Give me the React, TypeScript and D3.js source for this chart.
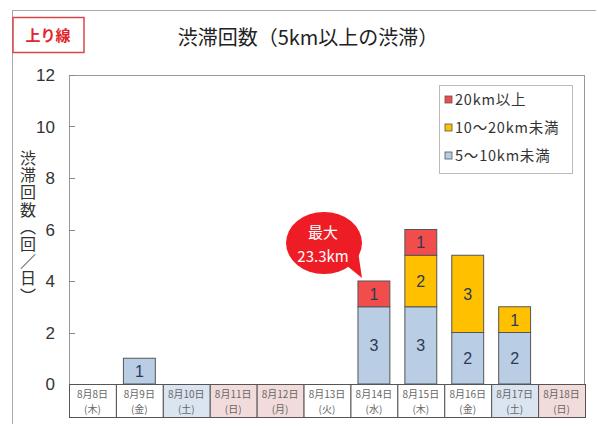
import React from "react";
import * as d3 from "d3";

const dates = ["8月8日", "8月9日", "8月10日", "8月11日", "8月12日", "8月13日", "8月14日", "8月15日", "8月16日", "8月17日", "8月18日"];
const weekdays = ["(木)", "(金)", "(土)", "(日)", "(月)", "(火)", "(水)", "(木)", "(金)", "(土)", "(日)"];
const dayKinds = ["w", "w", "sat", "hol", "hol", "w", "w", "w", "w", "sat", "hol"];
const small = [0, 1, 0, 0, 0, 0, 3, 3, 2, 2, 0];
const mid = [0, 0, 0, 0, 0, 0, 0, 2, 3, 1, 0];
const large = [0, 0, 0, 0, 0, 0, 1, 1, 0, 0, 0];
const seriesNames = ["5～10km未満", "10～20km未満", "20km以上"];
const yTicks = [0, 2, 4, 6, 8, 10, 12];

const colors = ["#b9cde5", "#ffc000", "#f24d4d"];
const cellFill: Record<string, string> = { w: "#ffffff", sat: "#dbe5f1", hol: "#f2dcdb" };
const JP = "'Noto Sans CJK JP', sans-serif";
const NUM = "'Liberation Sans', Arial, sans-serif";

export default function App() {
  const W = 598, H = 426;
  const left = 69, right = 585, top = 75, bottom = 384;
  const x = d3.scaleBand<string>().domain(dates).range([left, right]).paddingInner(0.32).paddingOuter(0.16);
  const xCell = d3.scaleBand<string>().domain(dates).range([left, right]).padding(0);
  const y = d3.scaleLinear().domain([0, 12]).range([bottom, top]);

  const rows = dates.map((d, i) => ({ date: d, s0: small[i], s1: mid[i], s2: large[i] }));
  const stack = d3.stack<any>().keys(["s0", "s1", "s2"])(rows);

  const iMax = 6;
  const cx = 324, cy = 243;

  return (
    <svg width={W} height={H} style={{ position: "absolute", left: 0, top: 0, background: "#fff" }}>
      {/* outer frame */}
      <line x1={12} y1={10.5} x2={596} y2={10.5} stroke="#aaa" />
      <line x1={12.5} y1={10} x2={12.5} y2={424} stroke="#aaa" />
      {/* badge */}
      <rect x={13} y={17.5} width={71} height={35} fill="#fff" stroke="#d9464a" strokeWidth={1.5} />
      <text x={48} y={41} textAnchor="middle" fontFamily={JP} fontWeight="bold" fontSize={15} fill="#e0252b">上り線</text>
      {/* title */}
      <text x={308} y={45} textAnchor="middle" fontFamily={JP} fontSize={20} fill="#222">渋滞回数（5km以上の渋滞）</text>
      {/* plot border */}
      <rect x={left + 0.5} y={top + 0.5} width={right - left - 1} height={bottom - top} fill="none" stroke="#999" />
      {/* y ticks */}
      {yTicks.map((t) => (
        <g key={t}>
          <line x1={left} x2={left + 6} y1={Math.round(y(t)) + 0.5} y2={Math.round(y(t)) + 0.5} stroke="#888" />
          <text x={55} y={y(t) + 6} textAnchor="end" fontFamily={NUM} fontSize={17} fill="#333">{t}</text>
        </g>
      ))}
      {/* y title */}
      <text x={28} y={150} fontFamily={JP} fontSize={16} fill="#333" style={{ writingMode: "vertical-rl" as any }} letterSpacing={1.2}>渋滞回数（回／日）</text>
      {/* bars */}
      {stack.map((layer, li) =>
        layer.map((seg, i) => {
          const v = seg[1] - seg[0];
          if (v <= 0) return null;
          const d = dates[i];
          const y0 = y(seg[0]), y1 = y(seg[1]);
          return (
            <g key={li + "-" + i}>
              <rect x={x(d)!} y={y1} width={x.bandwidth()} height={y0 - y1} fill={colors[li]} stroke="#555" strokeWidth={1} />
              <text x={x(d)! + x.bandwidth() / 2} y={(y0 + y1) / 2 + 6} textAnchor="middle" fontFamily={NUM} fontSize={16} fill="#2b3a55">{v}</text>
            </g>
          );
        })
      )}
      {/* table */}
      {dates.map((d, i) => (
        <g key={d}>
          <rect x={xCell(d)! + 0.5} y={bottom + 0.5} width={xCell.bandwidth()} height={33} fill={cellFill[dayKinds[i]]} stroke="#555" />
          <text x={xCell(d)! + xCell.bandwidth() / 2} y={bottom + 14} textAnchor="middle" fontFamily={JP} fontSize={10} fill="#666">{d}</text>
          <text x={xCell(d)! + xCell.bandwidth() / 2} y={bottom + 29} textAnchor="middle" fontFamily={JP} fontSize={10} fill="#666">{weekdays[i]}</text>
        </g>
      ))}
      {/* legend */}
      <rect x={439.5} y={85.5} width={133} height={88} fill="#fff" stroke="#bbb" />
      {[2, 1, 0].map((si, k) => (
        <g key={si}>
          <rect x={445} y={96 + k * 28} width={7} height={7} fill={colors[si]} stroke="#555" strokeWidth={0.8} />
          <text x={455} y={105 + k * 28} fontFamily={JP} fontSize={14.5} letterSpacing={0.8} fill="#333">{seriesNames[si]}</text>
        </g>
      ))}
      {/* callout */}
      <path d={`M ${cx + 22} ${cy + 22} L ${x(dates[iMax])! + 4} ${y(small[iMax] + mid[iMax] + large[iMax]) - 3} L ${cx + 34} ${cy + 8} Z`} fill="#ee1c24" />
      <ellipse cx={cx} cy={cy} rx={38} ry={31} fill="#ee1c24" />
      <text x={cx - 1} y={cy - 5} textAnchor="middle" fontFamily={JP} fontSize={15} fill="#fff">最大</text>
      <text x={cx - 1} y={cy + 19} textAnchor="middle" fontFamily={JP} fontSize={15} fill="#fff">23.3km</text>
    </svg>
  );
}
